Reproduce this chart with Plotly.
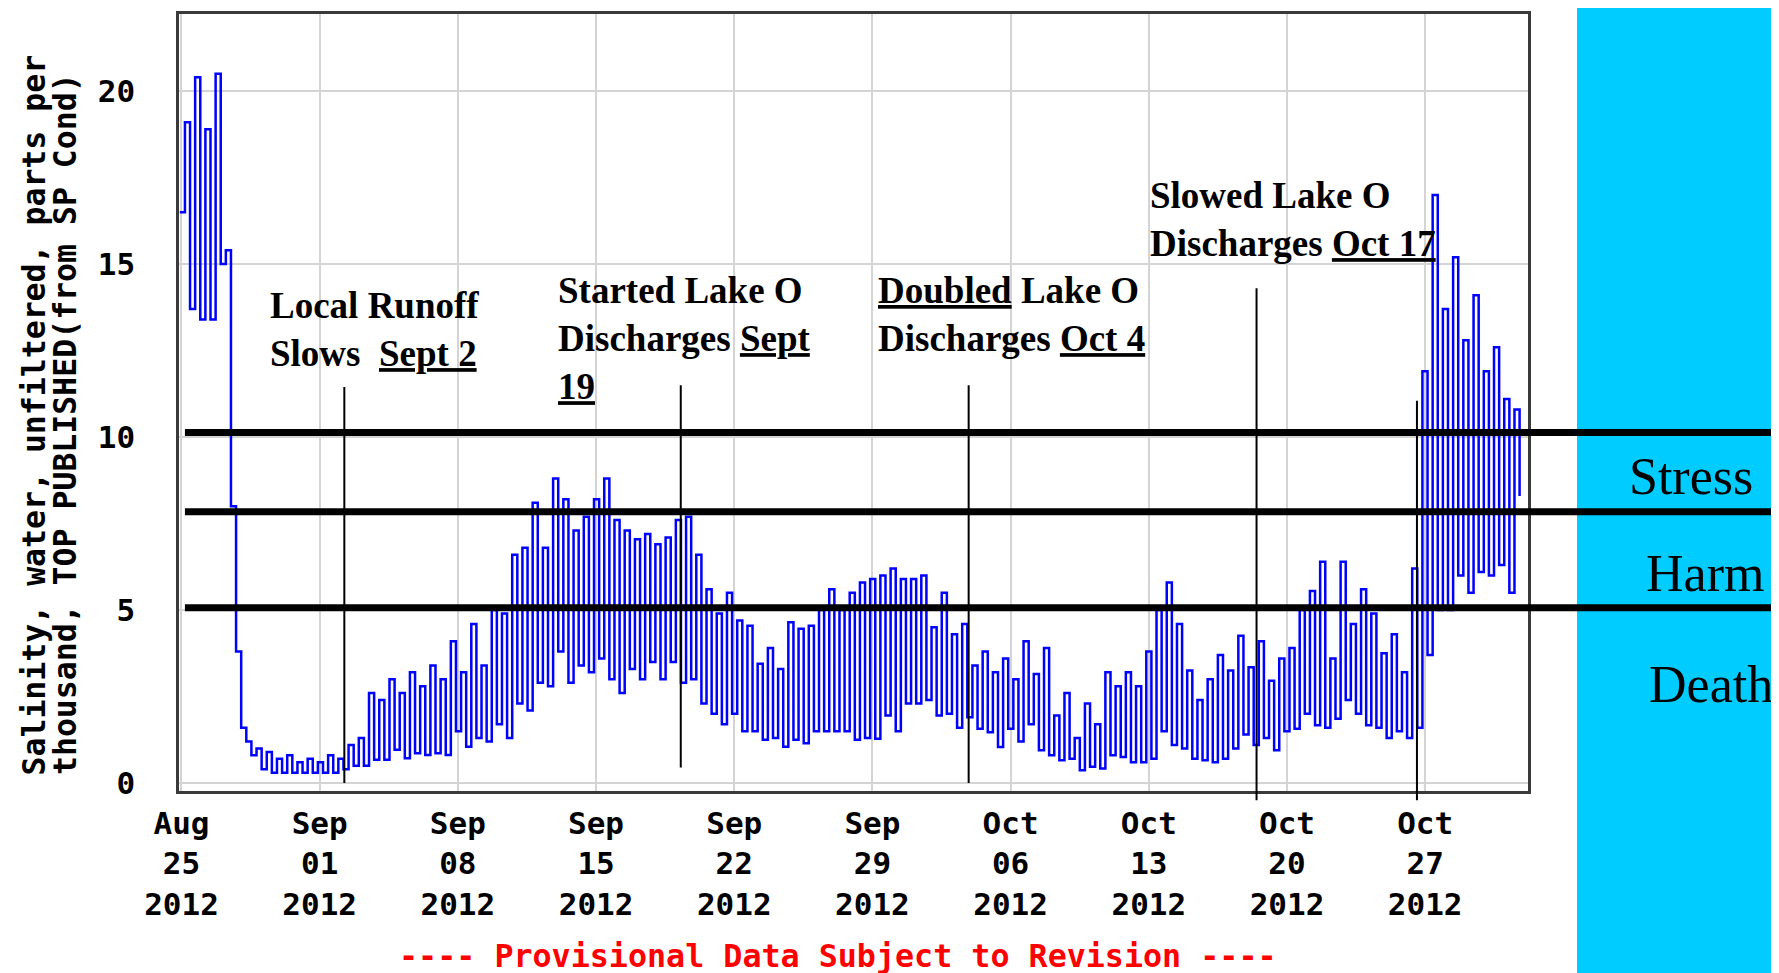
import pandas as pd
import plotly.graph_objects as go

# Salinity readings (ppt), tidal low / high pairs about 6.2 hours apart,
# read off the USGS provisional graph
aug25_aug31 = [16.5, 19.1, 13.7, 20.4, 13.4, 18.9, 13.4, 20.5, 15.0, 15.4, 8.0, 3.8,
               1.6, 1.2, 0.8, 1.0, 0.4, 0.9, 0.3, 0.7, 0.3, 0.8, 0.3, 0.6, 0.3, 0.7, 0.3, 0.6]
sep01_sep07 = [0.3, 0.8, 0.3, 0.7, 0.4, 1.1, 0.5, 1.3, 0.5, 2.6, 0.67, 2.4, 0.67, 3.0,
               0.96, 2.6, 0.72, 3.2, 0.86, 2.8, 0.81, 3.4, 0.86, 3.0, 0.81, 4.1]
sep08_sep14 = [1.5, 3.2, 1.05, 4.6, 1.3, 3.4, 1.2, 5.0, 1.7, 4.9, 1.3, 6.6, 2.3, 6.8,
               2.1, 8.1, 2.9, 6.8, 2.8, 8.8, 3.8, 8.2, 2.9, 7.3, 3.4, 7.7, 3.2, 8.2]
sep15_sep21 = [3.6, 8.8, 3.0, 7.6, 2.6, 7.3, 3.3, 7.05, 3.0, 7.2, 3.5, 6.9, 3.0, 7.1,
               3.5, 7.6, 2.9, 7.7, 3.0, 6.6, 2.3, 5.6, 2.0, 4.9, 1.7, 5.5, 2.0, 4.7]
sep22_sep28 = [1.5, 4.55, 1.5, 3.45, 1.25, 3.9, 1.3, 3.3, 1.05, 4.65, 1.25, 4.46, 1.15, 4.55,
               1.5, 5.0, 1.5, 5.6, 1.5, 5.0, 1.5, 5.5, 1.25, 5.8, 1.3, 5.9]
sep29_oct05 = [1.28, 6.0, 1.95, 6.2, 1.5, 5.9, 2.3, 5.9, 2.3, 6.0, 2.4, 4.5, 1.95, 5.5,
               2.0, 4.3, 1.6, 4.6, 1.9, 3.4, 1.57, 3.8, 1.47, 3.2, 1.04, 3.6]
oct06_oct12 = [1.57, 3.0, 1.2, 4.1, 1.7, 3.15, 0.95, 3.9, 0.8, 1.95, 0.66, 2.6, 0.7, 1.3,
               0.37, 2.3, 0.47, 1.7, 0.42, 3.2, 0.8, 2.8, 0.75, 3.2, 0.6, 2.8, 0.6, 3.8]
oct13_oct19 = [0.7, 5.0, 1.5, 5.8, 1.1, 4.6, 1.0, 3.25, 0.7, 2.4, 0.66, 3.0, 0.6, 3.7,
               0.7, 3.25, 1.0, 4.26, 1.4, 3.35, 1.1, 4.1, 1.3, 2.96, 0.95, 3.6, 1.5, 3.9]
oct20_oct26 = [1.57, 5.0, 2.0, 5.55, 1.67, 6.4, 1.6, 3.6, 1.86, 6.4, 2.4, 4.6, 2.0, 5.6,
               1.67, 4.9, 1.6, 3.75, 1.3, 4.3, 1.5, 3.2, 1.3, 6.2, 1.6, 11.9, 3.7, 17.0]
oct27_oct31 = [5.0, 13.7, 5.0, 15.2, 6.0, 12.8, 5.5, 14.1, 6.1, 11.9, 6.0, 12.6,
               6.3, 11.1, 5.5, 10.8, 8.3]

salinity = (aug25_aug31 + sep01_sep07 + sep08_sep14 + sep15_sep21 + sep22_sep28
            + sep29_oct05 + oct06_oct12 + oct13_oct19 + oct20_oct26 + oct27_oct31)
times = pd.date_range("2012-08-24 22:00", periods=len(salinity), freq="373min")

tick_dates = ["2012-08-25", "2012-09-01", "2012-09-08", "2012-09-15", "2012-09-22",
              "2012-09-29", "2012-10-06", "2012-10-13", "2012-10-20", "2012-10-27"]
tick_text = ["Aug<br>25<br>2012", "Sep<br>01<br>2012", "Sep<br>08<br>2012", "Sep<br>15<br>2012",
             "Sep<br>22<br>2012", "Sep<br>29<br>2012", "Oct<br>06<br>2012", "Oct<br>13<br>2012",
             "Oct<br>20<br>2012", "Oct<br>27<br>2012"]
y_ticks = [0, 5, 10, 15, 20]

# salinity thresholds drawn as thick black lines, with zone names on the right
zone_limits = [10.13, 7.84, 5.07]
zone_names = ["Stress", "Harm", "Death"]
zone_label_y = [8.85, 6.05, 2.85]
zone_label_x = [1.121, 1.131, 1.136]

# event markers
event_dates = ["2012-09-02 06:00", "2012-09-19 07:00", "2012-10-03 21:00",
               "2012-10-18 11:00", "2012-10-26 14:00"]
event_top = [11.45, 11.5, 11.5, 14.3, 11.05]
event_bottom = [0.0, 0.45, 0.0, -0.5, -0.5]

notes = ["Local Runoff<br>Slows\u00a0\u00a0<u>Sept 2</u>",
         "Started Lake O<br>Discharges <u>Sept</u><br><u>19</u>",
         "<u>Doubled</u> Lake O<br>Discharges <u>Oct 4</u>",
         "Slowed Lake O<br>Discharges <u>Oct 17</u>"]
note_x = ["2012-08-29 09:00", "2012-09-12 23:00", "2012-09-29 04:00", "2012-10-12 23:00"]
note_y = [13.1, 12.84, 13.53, 16.3]

Y_MIN, Y_MAX = -0.23, 22.23
MONO = "DejaVu Sans Mono"
SERIF = "Liberation Serif"

fig = go.Figure()
fig.add_trace(go.Scatter(x=times, y=salinity, mode="lines", line_shape="hv",
                         line=dict(color="#0000ff", width=2.5), showlegend=False))

shapes = [dict(type="rect", xref="paper", yref="paper", x0=1.0363, x1=2.0, y0=-0.3, y1=1.1,
               fillcolor="#00ccff", line=dict(width=0))]
for v in zone_limits:
    shapes.append(dict(type="line", xref="paper", yref="y", x0=0.0044, x1=2.0, y0=v, y1=v,
                       line=dict(color="black", width=7)))
for d, top, bot in zip(event_dates, event_top, event_bottom):
    shapes.append(dict(type="line", xref="x", yref="paper", x0=d, x1=d,
                       y0=(bot - Y_MIN) / (Y_MAX - Y_MIN), y1=(top - Y_MIN) / (Y_MAX - Y_MIN),
                       line=dict(color="black", width=2)))

annotations = []
for txt, x, y in zip(notes, note_x, note_y):
    annotations.append(dict(text=txt, x=x, y=y, xref="x", yref="y", xanchor="left",
                            yanchor="middle", align="left", showarrow=False,
                            font=dict(family=SERIF, size=37, color="black", weight="bold")))
for name, x, y in zip(zone_names, zone_label_x, zone_label_y):
    annotations.append(dict(text=name, x=x, y=y, xref="paper", yref="y", showarrow=False,
                            xanchor="center", yanchor="middle",
                            font=dict(family=SERIF, size=52, color="black")))
annotations.append(dict(text="Salinity, water, unfiltered, parts per", textangle=-90,
                        x=-0.1075, y=0.018, xref="paper", yref="paper", xanchor="center",
                        yanchor="bottom", showarrow=False,
                        font=dict(family=MONO, size=31.5, color="black", weight="bold")))
annotations.append(dict(text="thousand, TOP PUBLISHED(from SP Cond)", textangle=-90,
                        x=-0.0845, y=0.018, xref="paper", yref="paper", xanchor="center",
                        yanchor="bottom", showarrow=False,
                        font=dict(family=MONO, size=31.5, color="black", weight="bold")))
annotations.append(dict(text="---- Provisional Data Subject to Revision ----",
                        x=0.4885, y=-0.2128, xref="paper", yref="paper", showarrow=False,
                        xanchor="center", yanchor="middle",
                        font=dict(family=MONO, size=31.7, color="#ff0000", weight="bold")))

axis_font = dict(family=MONO, size=31, color="black", weight="bold")
fig.update_layout(
    # page body adds 8px on top/left, so the figure is 8px smaller
    width=1771, height=965,
    margin=dict(l=171, r=251, t=3, b=182),
    paper_bgcolor="white", plot_bgcolor="white",
    shapes=shapes, annotations=annotations,
    xaxis=dict(type="date", range=["2012-08-24 21:00", "2012-11-01 05:00"],
               tickvals=tick_dates, ticktext=tick_text, tickangle=0, tickfont=axis_font,
               showgrid=True, gridcolor="#d4d4d4", gridwidth=2, zeroline=False,
               showline=True, mirror=True, linecolor="#3a3a3a", linewidth=2.5,
               ticks="", ticklabelstandoff=3),
    yaxis=dict(range=[Y_MIN, Y_MAX], tickvals=y_ticks, ticktext=[str(t) for t in y_ticks],
               tickfont=axis_font, showgrid=True, gridcolor="#d4d4d4", gridwidth=2,
               zeroline=False, showline=True, mirror=True, linecolor="#3a3a3a",
               linewidth=2.5, ticks="", ticklabelstandoff=35),
)

fig.write_html("out.html")
